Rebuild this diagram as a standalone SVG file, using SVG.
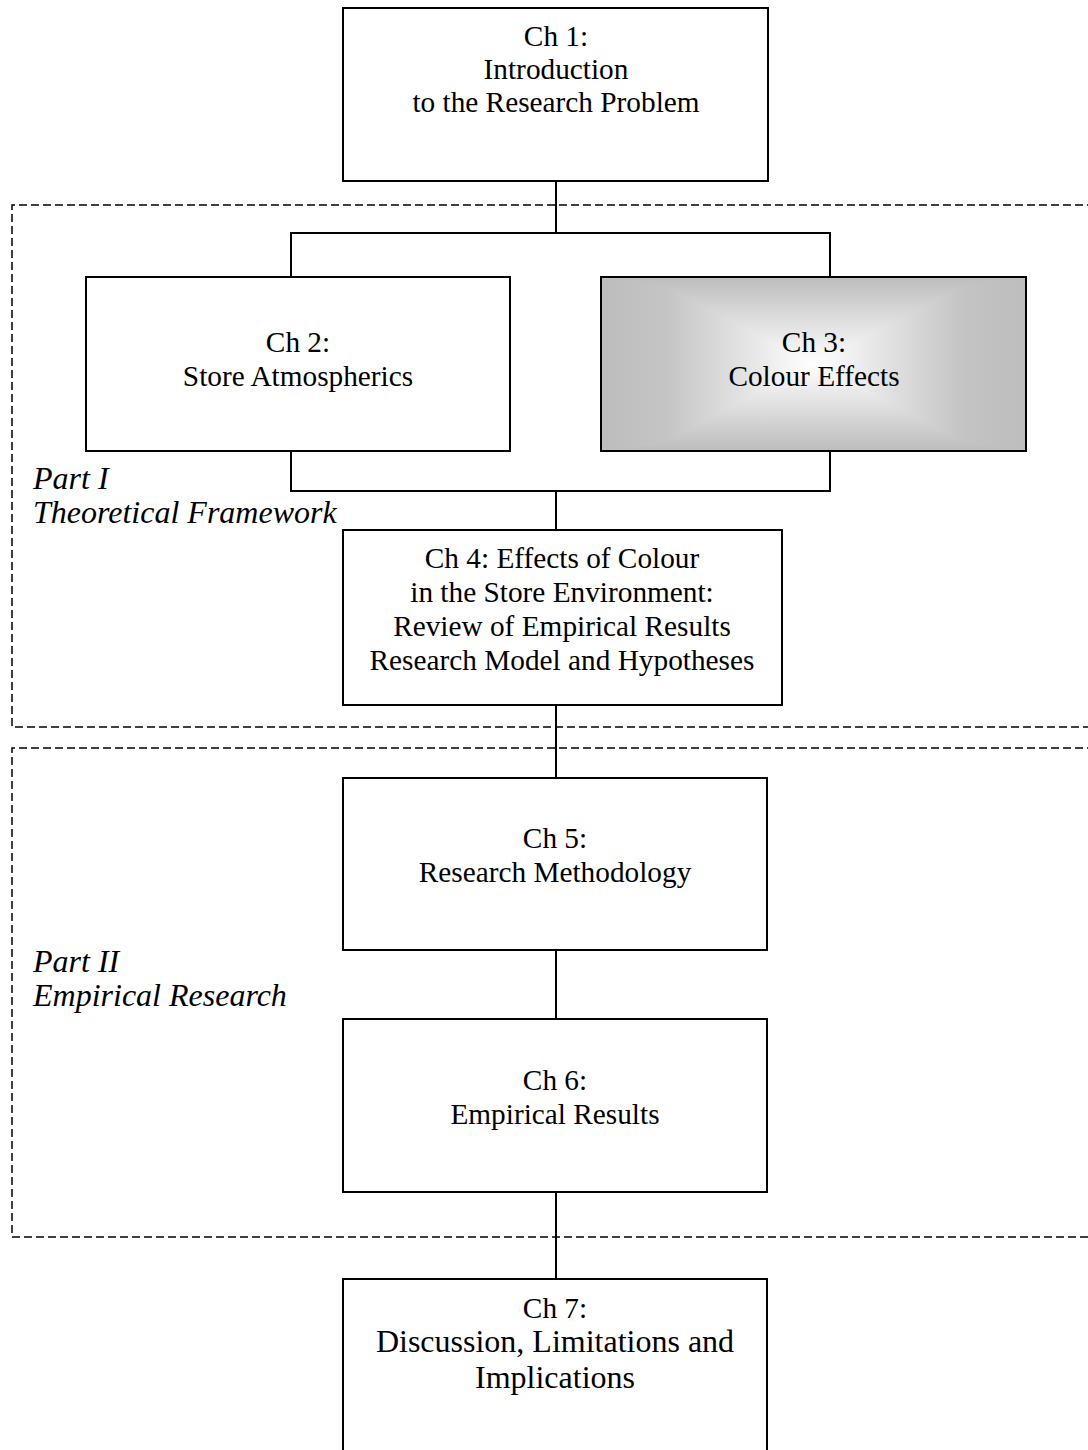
<svg xmlns="http://www.w3.org/2000/svg" width="1088" height="1450" viewBox="0 0 1088 1450">
<style>
.box{fill:#fff;stroke:#000;stroke-width:2}
.ln{fill:none;stroke:#000;stroke-width:2}
.dash{fill:none;stroke:#000;stroke-width:1.5;stroke-dasharray:8 4}
.t{font-family:"Liberation Serif","Times New Roman",serif;font-size:29.3px;fill:#000;text-anchor:middle}
.p{font-family:"Liberation Serif","Times New Roman",serif;font-size:32px;font-style:italic;fill:#000}
.big{font-size:32px}
</style>
<defs>
<linearGradient id="gh" x1="0" y1="0" x2="1" y2="0">
<stop offset="0" stop-color="#bdbdbd"/><stop offset="0.15" stop-color="#c4c4c4"/><stop offset="0.5" stop-color="#ffffff"/><stop offset="0.85" stop-color="#c4c4c4"/><stop offset="1" stop-color="#bdbdbd"/>
</linearGradient>
<linearGradient id="gv" x1="0" y1="0" x2="0" y2="1">
<stop offset="0" stop-color="#bdbdbd"/><stop offset="0.5" stop-color="#ffffff"/><stop offset="1" stop-color="#bdbdbd"/>
</linearGradient>
</defs>
<rect width="1088" height="1450" fill="#fff"/>
<g id="frames">
<path class="dash" d="M1095,205 H12 V727 H1095"/>
<path class="dash" d="M1095,748 H12 V1237 H1095"/>
</g>
<g id="connectors">
<path class="ln" d="M556,181 V233 M291,277 V233 H830 V277"/>
<path class="ln" d="M291,451 V491 H830 V451 M556,491 V530"/>
<path class="ln" d="M556,705 V778"/>
<path class="ln" d="M556,950 V1019"/>
<path class="ln" d="M556,1192 V1279"/>
</g>
<g id="ch1">
<rect class="box" x="343" y="8" width="425" height="173"/>
<text class="t" x="556" y="46">Ch 1:</text>
<text class="t" x="556" y="79">Introduction</text>
<text class="t" x="556" y="112">to the Research Problem</text>
</g>
<g id="ch2">
<rect class="box" x="86" y="277" width="424" height="174"/>
<text class="t" x="298" y="352">Ch 2:</text>
<text class="t" x="298" y="386">Store Atmospherics</text>
</g>
<g id="ch3">
<g style="isolation:isolate">
<rect x="601" y="277" width="425" height="174" fill="url(#gh)"/>
<rect x="601" y="277" width="425" height="174" fill="url(#gv)" style="mix-blend-mode:darken"/>
</g>
<rect x="601" y="277" width="425" height="174" fill="none" stroke="#000" stroke-width="2"/>
<text class="t" x="814" y="352">Ch 3:</text>
<text class="t" x="814" y="386">Colour Effects</text>
</g>
<g id="part1">
<text class="p" x="33" y="489">Part I</text>
<text class="p" x="33" y="523">Theoretical Framework</text>
</g>
<g id="ch4">
<rect class="box" x="343" y="530" width="439" height="175"/>
<text class="t" x="562" y="568">Ch 4: Effects of Colour</text>
<text class="t" x="562" y="602">in the Store Environment:</text>
<text class="t" x="562" y="636">Review of Empirical Results</text>
<text class="t" x="562" y="670">Research Model and Hypotheses</text>
</g>
<g id="ch5">
<rect class="box" x="343" y="778" width="424" height="172"/>
<text class="t" x="555" y="848">Ch 5:</text>
<text class="t" x="555" y="882">Research Methodology</text>
</g>
<g id="part2">
<text class="p" x="33" y="972">Part II</text>
<text class="p" x="33" y="1006">Empirical Research</text>
</g>
<g id="ch6">
<rect class="box" x="343" y="1019" width="424" height="173"/>
<text class="t" x="555" y="1090">Ch 6:</text>
<text class="t" x="555" y="1124">Empirical Results</text>
</g>
<g id="ch7">
<rect class="box" x="343" y="1279" width="424" height="200"/>
<text class="t" x="555" y="1318">Ch 7:</text>
<text class="t big" x="555" y="1352">Discussion, Limitations and</text>
<text class="t big" x="555" y="1388">Implications</text>
</g>
</svg>
